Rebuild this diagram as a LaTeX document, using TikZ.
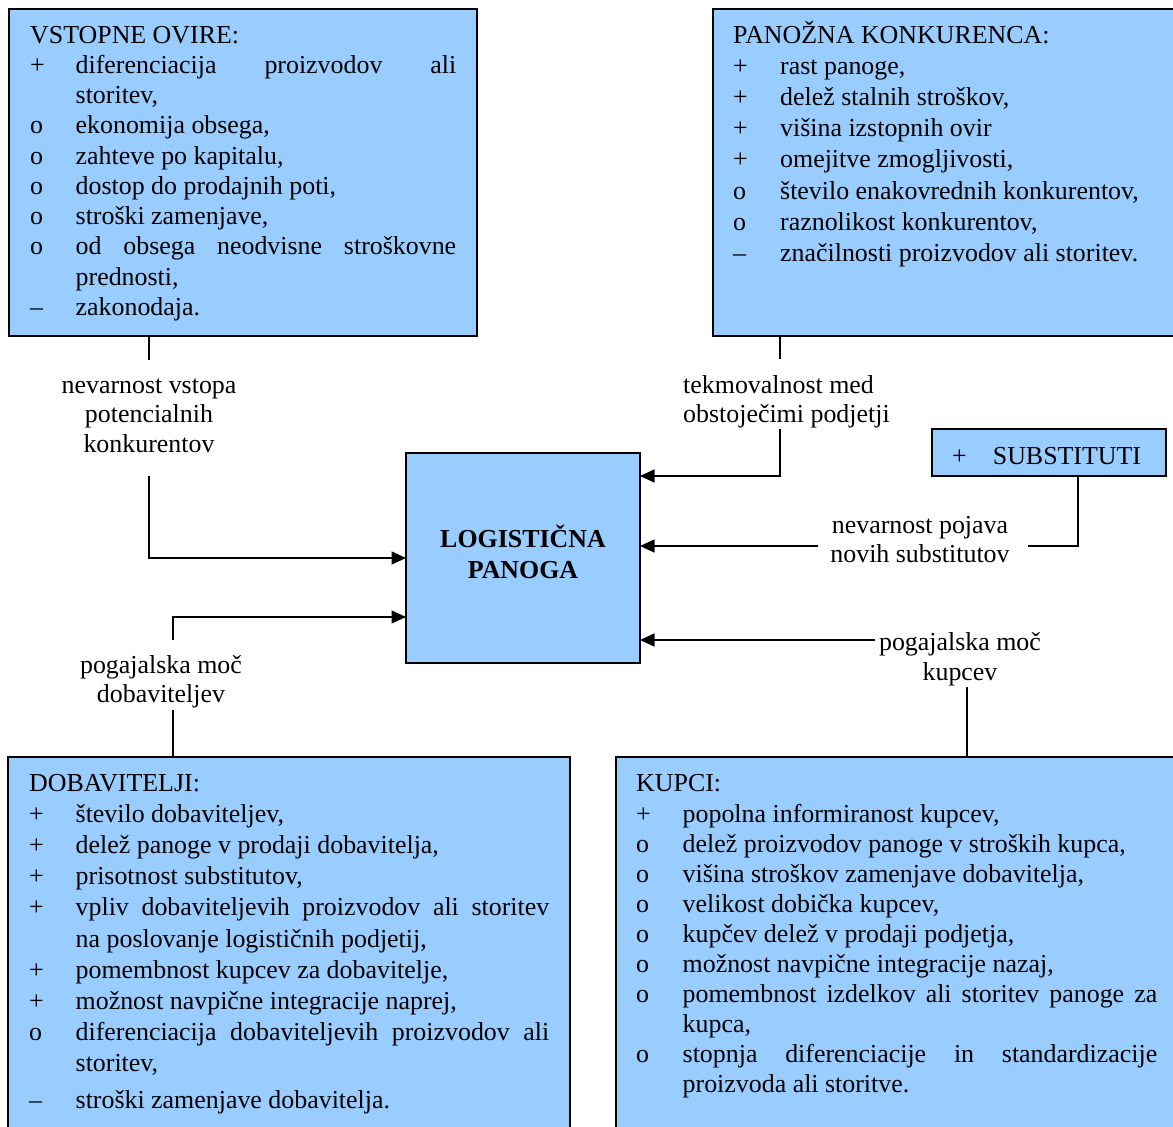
\documentclass[tikz,border=0pt]{standalone}
\usepackage{fontspec}
\setmainfont{Liberation Serif}
\usetikzlibrary{arrows.meta}
\definecolor{boxblue}{HTML}{99CCFF}
\newlength\bw
\newlength\jw
\newcommand\itm[2]{\hbox{\makebox[\bw][l]{#1}#2}}
\newcommand\jitm[2]{\hbox{\makebox[\bw][l]{#1}\makebox[\jw][s]{#2}}}
\newcommand\ctrlines[2]{\vtop{\baselineskip=#1\halign{\hfil##\hfil\cr#2\crcr}}}
\newcommand\leftlines[2]{\vtop{\baselineskip=#1\halign{##\hfil\cr#2\crcr}}}
\begin{document}
\begin{tikzpicture}[x=1pt, y=-1pt,
  font=\fontsize{25.9}{30}\selectfont,
  panel/.style={draw, fill=boxblue, line width=1.5pt, inner sep=0pt, outer sep=0pt, anchor=north west},
  txt/.style={inner sep=0pt, anchor=base west},
  lab/.style={inner sep=0pt, anchor=base},
  conn/.style={line width=1.5pt},
  arr/.style={conn, -{Triangle[length=14.5pt,width=13pt]}}]
\useasboundingbox (0,0) rectangle (1173,1127);
\clip (0,0) rectangle (1173,1127);
% panels
\node[panel, minimum width=468pt, minimum height=327pt] (vo) at (9,9) {};
\node[panel, minimum width=480pt, minimum height=327pt] (pk) at (713,9) {};
\node[panel, minimum width=234pt, minimum height=210pt] (lg) at (406,453) {};
\node[panel, minimum width=234pt, minimum height=47pt] (sb) at (932,429) {};
\node[panel, minimum width=562pt, minimum height=400pt] (db) at (8,757) {};
\node[panel, minimum width=580pt, minimum height=400pt] (kp) at (616,757) {};
% panel texts
\node[txt] (vot) at (30,43) {\vtop{\setlength\bw{45.5pt}\setlength\jw{380.5pt}\baselineskip=30.25pt
\hbox{VSTOPNE OVIRE:}
\jitm{+}{diferenciacija proizvodov ali}
\itm{}{storitev,}
\itm{o}{ekonomija obsega,}
\itm{o}{zahteve po kapitalu,}
\itm{o}{dostop do prodajnih poti,}
\itm{o}{stroški zamenjave,}
\jitm{o}{od obsega neodvisne stroškovne}
\itm{}{prednosti,}
\itm{–}{zakonodaja.}}};
\node[txt] (pkt) at (733,43) {\vtop{\setlength\bw{47pt}\baselineskip=31.2pt
\hbox{PANOŽNA KONKURENCA:}
\itm{+}{rast panoge,}
\itm{+}{delež stalnih stroškov,}
\itm{+}{višina izstopnih ovir}
\itm{+}{omejitve zmogljivosti,}
\itm{o}{število enakovrednih konkurentov,}
\itm{o}{raznolikost konkurentov,}
\itm{–}{značilnosti proizvodov ali storitev.}}};
\node[txt] (dbt) at (29,791) {\vtop{\setlength\bw{46.5pt}\setlength\jw{473.5pt}\baselineskip=31.2pt
\hbox{DOBAVITELJI:}
\itm{+}{število dobaviteljev,}
\itm{+}{delež panoge v prodaji dobavitelja,}
\itm{+}{prisotnost substitutov,}
\jitm{+}{vpliv dobaviteljevih proizvodov ali storitev}
\itm{}{na poslovanje logističnih podjetij,}
\itm{+}{pomembnost kupcev za dobavitelje,}
\itm{+}{možnost navpične integracije naprej,}
\jitm{o}{diferenciacija dobaviteljevih proizvodov ali}
\itm{}{storitev,}
\vskip5pt
\itm{–}{stroški zamenjave dobavitelja.}}};
\node[txt] (kpt) at (636,791) {\vtop{\setlength\bw{46.5pt}\setlength\jw{474.5pt}\baselineskip=30pt
\hbox{KUPCI:}
\vskip1pt
\itm{+}{popolna informiranost kupcev,}
\itm{o}{delež proizvodov panoge v stroških kupca,}
\itm{o}{višina stroškov zamenjave dobavitelja,}
\itm{o}{velikost dobička kupcev,}
\itm{o}{kupčev delež v prodaji podjetja,}
\itm{o}{možnost navpične integracije nazaj,}
\jitm{o}{pomembnost izdelkov ali storitev panoge za}
\itm{}{kupca,}
\jitm{o}{stopnja diferenciacije in standardizacije}
\itm{}{proizvoda ali storitve.}}};
\node[lab] (lgt) at (523,547) {\bfseries\ctrlines{31pt}{LOGISTIČNA\cr PANOGA}};
\node[txt] (sbt) at (952,464) {\makebox[40.7pt][l]{+}SUBSTITUTI};
% connector labels
\node[lab] (l1) at (149,393) {\ctrlines{29.5pt}{nevarnost vstopa\cr potencialnih\cr konkurentov}};
\node[txt] (l2) at (683,393) {\leftlines{29pt}{tekmovalnost med\cr obstoječimi podjetji}};
\node[lab] (l3) at (920,533) {\ctrlines{29.5pt}{nevarnost pojava\cr novih substitutov}};
\node[lab] (l4) at (161,673) {\ctrlines{29pt}{pogajalska moč\cr dobaviteljev}};
\node[lab] (l5) at (960,650) {\ctrlines{30pt}{pogajalska moč\cr kupcev}};
% connectors
\coordinate (a1) at (149,360);
\coordinate (b1) at (149,476);
\coordinate (e1) at (406,558);
\draw[conn] (vo.south -| a1) -- (a1);
\draw[arr] (b1) |- (lg.west |- e1);
\coordinate (a2) at (780,359);
\coordinate (b2) at (780,429);
\coordinate (e2) at (640,476);
\draw[conn] (pk.south -| a2) -- (a2);
\draw[arr] (b2) |- (lg.east |- e2);
\coordinate (a3) at (1078,546);
\coordinate (c3) at (1028,546);
\coordinate (d3) at (818,546);
\draw[conn] (sb.south -| a3) -- (a3) -- (c3);
\draw[arr] (d3) -- (lg.east |- d3);
\coordinate (a4) at (173,710);
\coordinate (b4) at (173,640);
\coordinate (e4) at (406,617);
\draw[conn] (db.north -| a4) -- (a4);
\draw[arr] (b4) |- (lg.west |- e4);
\coordinate (a5) at (967,687);
\coordinate (b5) at (875,640);
\draw[conn] (kp.north -| a5) -- (a5);
\draw[arr] (b5) -- (lg.east |- b5);
\end{tikzpicture}
\end{document}
